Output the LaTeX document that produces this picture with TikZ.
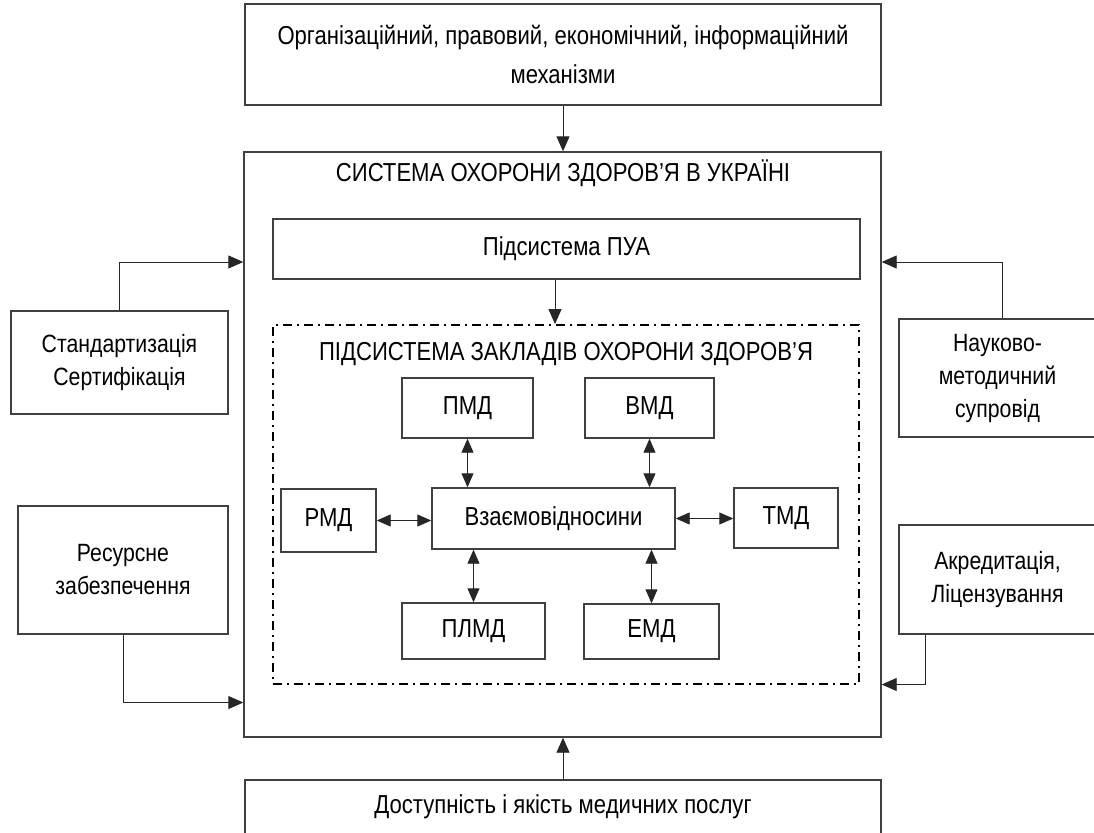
\documentclass[tikz,border=0pt]{standalone}
\usepackage{fontspec}
\setmainfont{Liberation Sans}[FakeStretch=0.85]
\usepackage{tikz}
\usetikzlibrary{arrows.meta, positioning}
\tikzstyle{plain} = [rectangle, draw=black!75, line width=1.4pt, align=center, inner sep=0pt, font=\fontsize{26}{34}\selectfont]
\tikzstyle{side} = [plain, font=\fontsize{25}{33}\selectfont]
\tikzstyle{heading} = [inner sep=0pt, font=\fontsize{26}{34}\selectfont]
\tikzstyle{dashdot} = [rectangle, draw=black, line width=1.8pt, dash pattern=on 9pt off 5pt on 2pt off 5pt]
\tikzstyle{arrow} = [line width=0.9pt, draw=black!85, -{Triangle[length=15pt,width=13pt]}]
\tikzstyle{dblarrow} = [line width=0.9pt, draw=black!85, {Triangle[length=14pt,width=12pt]}-{Triangle[length=14pt,width=12pt]}]

\begin{document}
\begin{tikzpicture}[x=1pt, y=-1pt]
  \useasboundingbox (0,0) rectangle (1094,832);
  \clip (0,0) rectangle (1094,832);
  % nodes
    \node (mech) [plain, minimum width=636pt, minimum height=101pt, font=\fontsize{26}{39}\selectfont] at (563,54.5) {Організаційний, правовий, економічний, інформаційний\\механізми};
    \node (system) [plain, minimum width=637pt, minimum height=585pt] at (562.5,444.5) {};
    \node (systitle) [heading] at (563,173) {СИСТЕМА ОХОРОНИ ЗДОРОВ’Я В УКРАЇНІ};
    \node (pua) [plain, minimum width=587pt, minimum height=60pt] at (566.5,249) {Підсистема ПУА};
    \node (zaklady) [dashdot, minimum width=586pt, minimum height=359pt] at (566,504.5) {};
    \node (zaktitle) [heading] at (566,354) {ПІДСИСТЕМА ЗАКЛАДІВ ОХОРОНИ ЗДОРОВ’Я};
    \node (pmd) [plain, minimum width=131pt, minimum height=60pt] at (467.5,408) {ПМД};
    \node (vmd) [plain, minimum width=129pt, minimum height=60pt] at (649.5,408) {ВМД};
    \node (rmd) [plain, minimum width=95pt, minimum height=63pt] at (328.5,520.5) {РМД};
    \node (vz) [plain, minimum width=243pt, minimum height=61pt] at (553.5,518.5) {Взаємовідносини};
    \node (tmd) [plain, minimum width=104pt, minimum height=60pt] at (786,518) {ТМД};
    \node (plmd) [plain, minimum width=143pt, minimum height=56pt] at (473.5,631) {ПЛМД};
    \node (emd) [plain, minimum width=135pt, minimum height=55pt] at (651.5,631.5) {ЕМД};
    \node (standart) [side, minimum width=217pt, minimum height=103pt] at (119.5,362.5) {Стандартизація\\Сертифікація};
    \node (resurs) [side, minimum width=210pt, minimum height=128pt] at (123,570) {Ресурсне\\забезпечення};
    \node (naukovo) [side, minimum width=197pt, minimum height=118pt] at (997.5,378) {Науково-\\методичний\\супровід};
    \node (akredyt) [side, minimum width=197pt, minimum height=109pt] at (997.5,579.5) {Акредитація,\\Ліцензування};
    \node (access) [plain, minimum width=636pt, minimum height=54pt] at (563,807) {Доступність і якість медичних послуг};
  %arrows
    \draw [arrow] (mech.south) -- (mech.south |- system.north);
    \draw [arrow] ([xshift=-11.5pt]pua.south) -- ([xshift=-11.5pt]pua.south |- zaklady.north);
    \draw [arrow] (access.north) -- (access.north |- system.south);
    \draw [arrow] (standart.north) |- ([yshift=182.5pt]system.west);
    \draw [arrow] (resurs.south) |- ([yshift=-258pt]system.west);
    \draw [arrow] ([xshift=4.5pt]naukovo.north) |- ([yshift=182.5pt]system.east);
    \draw [arrow] ([xshift=27pt]akredyt.south west) |- ([yshift=-240pt]system.east);
    \draw [dblarrow] (pmd.south) -- (pmd.south |- vz.north);
    \draw [dblarrow] (vmd.south) -- (vmd.south |- vz.north);
    \draw [dblarrow] (plmd.north) -- (plmd.north |- vz.south);
    \draw [dblarrow] (emd.north) -- (emd.north |- vz.south);
    \draw [dblarrow] (rmd.east) -- (rmd.east -| vz.west);
    \draw [dblarrow] (vz.east) -- (vz.east -| tmd.west);
\end{tikzpicture}
\end{document}
